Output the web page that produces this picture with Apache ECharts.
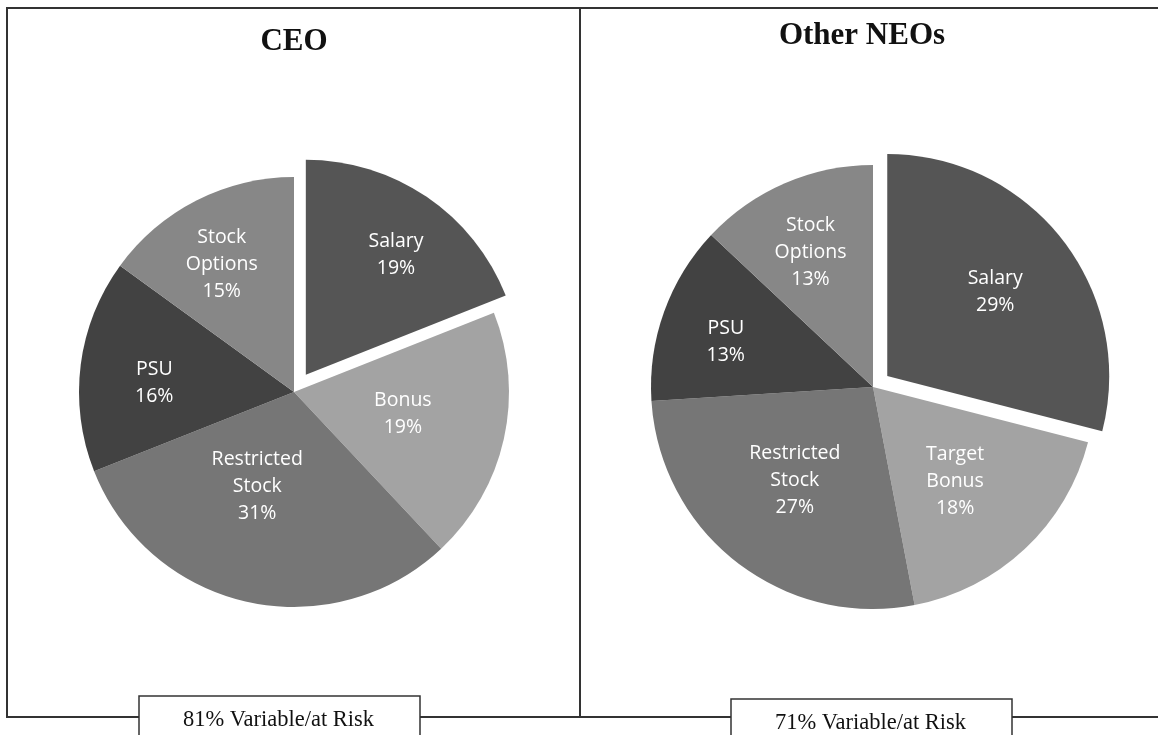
<!DOCTYPE html>
<html>
<head>
<meta charset="utf-8">
<title>CEO / Other NEOs pay mix</title>
<script src="https://cdn.jsdelivr.net/npm/echarts@6/dist/echarts.min.js"></script>
<style>
  html, body { margin: 0; padding: 0; background: #fff; }
  #chart { width: 1158px; height: 735px; }
</style>
</head>
<body>
<div id="chart"></div>
<script>
// 数据
const ceoNames = ['Salary', 'Bonus', 'Restricted\nStock', 'PSU', 'Stock\nOptions']
const ceoValues = [19, 19, 31, 16, 15]
const neoNames = ['Salary', 'Target\nBonus', 'Restricted\nStock', 'PSU', 'Stock\nOptions']
const neoValues = [29, 18, 27, 13, 13]
const panelTitles = ['CEO', 'Other NEOs']
const riskNotes = ['81% Variable/at Risk', '71% Variable/at Risk']

// 样式
const sliceColors = ['#555555', '#a3a3a3', '#767676', '#424242', '#878787']
const lineColor = '#333333'
// 标签位置：[距圆心半径px, 从12点顺时针角度°]
const ceoPie = {
  cx: 294, cy: 392, r: 215, offset: 21,
  labelPolar: [[147, 37], [108, 101.2], [98, 201.6], [137, 273.5], [144, 330.5]]
}
const neoPie = {
  cx: 873, cy: 387, r: 222, offset: 18,
  labelPolar: [[134, 52], [122, 139], [119, 219.9], [151, 287], [145, 335]]
}

const chart = echarts.init(document.getElementById('chart'))

function buildPie(names, values, cfg) {
  const total = values.reduce((a, b) => a + b, 0)
  // 每个扇区中线角度（从12点顺时针）
  const mids = []
  let acc = 0
  values.forEach(v => {
    mids.push((acc + v / 2) / total * Math.PI * 2)
    acc += v
  })
  return {
    type: 'pie',
    center: [cfg.cx, cfg.cy],
    radius: [0, cfg.r],
    startAngle: 90,
    clockwise: true,
    avoidLabelOverlap: false,
    selectedMode: 'single',
    selectedOffset: cfg.offset,
    emphasis: { disabled: true },
    silent: true,
    animation: false,
    itemStyle: { borderWidth: 0 },
    label: {
      show: true,
      position: 'inside',
      color: '#ffffff',
      fontFamily: 'Open Sans',
      fontSize: 19.5,
      lineHeight: 27,
      align: 'center',
      formatter: p => p.name + '\n' + p.value + '%'
    },
    labelLine: { show: false },
    labelLayout: p => {
      const m = mids[p.dataIndex]
      const lp = cfg.labelPolar[p.dataIndex]
      const t = lp[1] * Math.PI / 180
      const half = cfg.r / 2
      return {
        dx: lp[0] * Math.sin(t) - half * Math.sin(m),
        dy: -lp[0] * Math.cos(t) + half * Math.cos(m)
      }
    },
    data: names.map((n, i) => ({
      name: n,
      value: values[i],
      selected: i === 0,
      itemStyle: { color: sliceColors[i] },
      select: { itemStyle: { color: sliceColors[i], borderWidth: 0 } }
    }))
  }
}

function noteBox(x, y, w, text) {
  return {
    type: 'group',
    children: [
      { type: 'rect', shape: { x: x, y: y, width: w, height: 60 }, style: { fill: '#fff', stroke: lineColor, lineWidth: 1.5 } },
      { type: 'text', x: x + w / 2 - 1, y: y + 24, style: { text: text, fill: '#111', font: '22.5px "Liberation Serif"', align: 'center', verticalAlign: 'middle' } }
    ]
  }
}

const option = {
  backgroundColor: '#ffffff',
  title: [
    { text: panelTitles[0], left: 294, top: 26, textAlign: 'center', padding: 0,
      textStyle: { fontFamily: 'Liberation Serif', fontWeight: 'bold', fontSize: 31, color: '#111' } },
    { text: panelTitles[1], left: 862, top: 20, textAlign: 'center', padding: 0,
      textStyle: { fontFamily: 'Liberation Serif', fontWeight: 'bold', fontSize: 31, color: '#111' } }
  ],
  graphic: [
    { type: 'polyline', shape: { points: [[1158, 8], [7, 8], [7, 717], [1158, 717]] }, style: { stroke: lineColor, lineWidth: 2, fill: null } },
    { type: 'line', shape: { x1: 580, y1: 8, x2: 580, y2: 717 }, style: { stroke: lineColor, lineWidth: 2 } },
    noteBox(139, 696, 281, riskNotes[0]),
    noteBox(731, 699, 281, riskNotes[1])
  ],
  series: [
    buildPie(ceoNames, ceoValues, ceoPie),
    buildPie(neoNames, neoValues, neoPie)
  ]
}

chart.setOption(option)
</script>
</body>
</html>
